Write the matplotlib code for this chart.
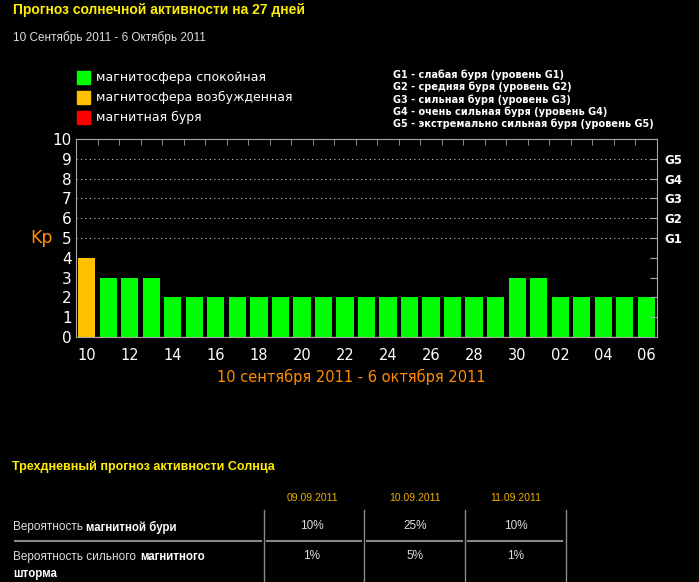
'''
Прогноз солнечной активности на 27 дней -- Kp bar chart with a small table
'''

import matplotlib
matplotlib.use("Agg")
import matplotlib.pyplot as plt

# data
DAYS = ["10", "11", "12", "13", "14", "15", "16", "17", "18", "19", "20",
        "21", "22", "23", "24", "25", "26", "27", "28", "29", "30", "01",
        "02", "03", "04", "05", "06"]
KP = [4, 3, 3, 3, 2, 2, 2, 2, 2, 2, 2, 2, 2, 2, 2, 2, 2, 2, 2, 2,
      3, 3, 2, 2, 2, 2, 2]
G_LEVELS = [5, 6, 7, 8, 9]
G_NAMES = ["G1", "G2", "G3", "G4", "G5"]
G_TEXT = ["G1 - слабая буря (уровень G1)",
          "G2 - средняя буря (уровень G2)",
          "G3 - сильная буря (уровень G3)",
          "G4 - очень сильная буря (уровень G4)",
          "G5 - экстремально сильная буря (уровень G5)"]
LEGEND = ["магнитосфера спокойная", "магнитосфера возбужденная",
          "магнитная буря"]
TABLE_DATES = ["09.09.2011", "10.09.2011", "11.09.2011"]
ROW1 = ["10%", "25%", "10%"]
ROW2 = ["1%", "5%", "1%"]

GREEN = "#00ff00"
ORANGE = "#ffc000"
RED = "#ff0000"
TEXT_ORANGE = "#ff8c00"
YELLOW = "#ffee00"
GRAY = "#a8a8a8"

W, H = 699, 582


def px(x, y):
    ''' pixel coords (from top-left) -> figure fraction '''
    return x / W, 1 - y / H


def bar_color(kp):
    if kp >= 5:
        return RED
    if kp == 4:
        return ORANGE
    return GREEN


fig = plt.figure(figsize=(W / 100, H / 100), dpi=100, facecolor="black")

# header
fig.text(*px(13, 10), "Прогноз солнечной активности на 27 дней",
         color=YELLOW, fontsize=10, fontweight="bold",
         family="Liberation Sans", va="center")
fig.text(*px(13, 38), "10 Сентябрь 2011 - 6 Октябрь 2011",
         color="#dddddd", fontsize=8.5, family="Liberation Sans", va="center")

# colour legend
for i, (name, col) in enumerate(zip(LEGEND, [GREEN, ORANGE, RED])):
    y = 77 + i * 20
    fig.patches.append(plt.Rectangle(px(77, y + 7), 13 / W, 13 / H,
                                     transform=fig.transFigure,
                                     color=col))
    fig.text(*px(96, y), name, color="white", fontsize=9, va="center")

# storm level legend
for i, t in enumerate(G_TEXT):
    fig.text(*px(393, 75 + i * 12.2), t, color="white", fontsize=7.05,
             fontweight="bold", va="center")

# main chart
ax = fig.add_axes([76 / W, 1 - 337 / H, 581 / W, 198 / H])
ax.set_facecolor("black")
pos = list(range(len(DAYS)))
ax.bar(pos, KP, width=0.8, color=[bar_color(k) for k in KP])
ax.set_xlim(-0.5, len(DAYS) - 0.5)
ax.set_ylim(0, 10)

for lvl in G_LEVELS:
    ax.axhline(lvl, color="#cccccc", linestyle=(0, (1, 3)), linewidth=0.8)

ax.set_yticks(range(11))
ax.set_xticks(pos[::2], DAYS[::2])
ax.set_xticks([p + 0.5 for p in pos[:-1]], minor=True)
ax.tick_params(axis="y", colors="white", labelsize=11, length=0, pad=3)
ax.tick_params(axis="x", which="major", colors="white", labelsize=10.5,
               length=0, pad=8)
ax.tick_params(axis="x", which="minor", top=True, bottom=False,
               direction="in", length=4, color=GRAY)
for s in ax.spines.values():
    s.set_color(GRAY)

ax2 = ax.twinx()
ax2.set_ylim(0, 10)
ax2.set_yticks(range(1, 10), [""] * 4 + G_NAMES)
ax2.tick_params(axis="y", direction="in", length=5, color=GRAY,
                labelcolor="white", labelsize=8.5, pad=5)
for lab in ax2.get_yticklabels():
    lab.set_fontweight("bold")
for s in ax2.spines.values():
    s.set_visible(False)

fig.text(*px(42, 238), "Kp", color=TEXT_ORANGE, fontsize=12.5,
         ha="center", va="center")
fig.text(*px(351, 377), "10 сентября 2011 - 6 октября 2011",
         color=TEXT_ORANGE, fontsize=10.5, ha="center", va="center")

# three day forecast table
fig.text(*px(12, 467), "Трехдневный прогноз активности Солнца",
         color=YELLOW, fontsize=9, fontweight="bold",
         family="Liberation Sans", va="center")
col_x = [312, 415, 516]
for x, d, v1, v2 in zip(col_x, TABLE_DATES, ROW1, ROW2):
    fig.text(*px(x, 498), d, color="#f0b000", fontsize=7.5,
             family="Liberation Sans", ha="center", va="center")
    fig.text(*px(x, 526), v1, color="#dddddd", fontsize=8.5,
             family="Liberation Sans", ha="center", va="center")
    fig.text(*px(x, 556), v2, color="#dddddd", fontsize=8.5,
             family="Liberation Sans", ha="center", va="center")

for x in [264, 364, 465, 566]:
    fig.lines.append(plt.Line2D([x / W, x / W], [1 - 510 / H, 0],
                                transform=fig.transFigure,
                                color="#888888", linewidth=1))
for x0, x1 in [(15, 261), (267, 361), (367, 462), (468, 562)]:
    fig.lines.append(plt.Line2D([x0 / W, x1 / W], [1 - 541 / H] * 2,
                                transform=fig.transFigure,
                                color="#888888", linewidth=1.5))

fig.text(*px(13, 527), "Вероятность", color="#dddddd", fontsize=8.5,
         family="Liberation Sans", va="center")
fig.text(*px(86, 527), "магнитной бури", color="white", fontsize=8.3,
         fontweight="bold", family="Liberation Sans", va="center")
fig.text(*px(13, 557), "Вероятность сильного", color="#dddddd",
         fontsize=8.5, family="Liberation Sans", va="center")
fig.text(*px(140, 557), "магнитного", color="white", fontsize=8.3,
         fontweight="bold", family="Liberation Sans", va="center")
fig.text(*px(13, 574), "шторма", color="white", fontsize=8.3,
         fontweight="bold", family="Liberation Sans", va="center")

fig.savefig("out.png", dpi=100, facecolor="black")
